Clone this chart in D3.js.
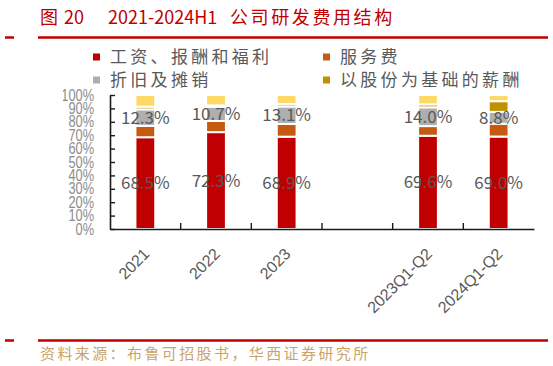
<!DOCTYPE html>
<html>
<head>
<meta charset="utf-8">
<script src="https://cdn.jsdelivr.net/npm/d3@7"></script>
<style>
  html, body { margin: 0; padding: 0; background: #fff; }
  svg { display: block; font-family: "Noto Sans CJK SC", "Noto Sans", sans-serif; }
</style>
</head>
<body>
<svg id="chart" width="553" height="366"></svg>
<script>
// categories (empty slot keeps the gap between annual and half-year bars)
const categories = ["2021", "2022", "2023", "", "2023Q1-Q2", "2024Q1-Q2"];

// series values in %, bottom to top
const wages = [68.5, 72.3, 68.9, null, 69.6, 69.0];
const service = [8.5, 8.3, 9.5, null, 7.2, 9.6];
const depreciation = [12.3, 10.7, 13.1, null, 14.0, 8.8];
const shareBased = [2.0, 1.0, 1.8, null, 2.2, 8.0];
const other = [8.7, 7.7, 6.7, null, 7.0, 4.6];

const seriesKeys = ["wages", "service", "depreciation", "shareBased", "other"];
const seriesNames = ["工资、报酬和福利", "服务费", "折旧及摊销", "以股份为基础的薪酬", "其他"];
const colors = ["#C00000", "#C55A11", "#AFAFAF", "#BF9000", "#FFD966"];
const yTicks = [0, 10, 20, 30, 40, 50, 60, 70, 80, 90, 100];
const labelledKeys = ["wages", "depreciation"]; // only these carry value labels

const title = "2021-2024H1";
const source = "资料来源：布鲁可招股书，华西证券研究所";

const svg = d3.select("#chart");
const red = "#C00000";

// header / footer rules
svg.append("line").attr("x1", 5).attr("x2", 14).attr("y1", 37.5).attr("y2", 37.5)
  .attr("stroke", red).attr("stroke-width", 2.5);
svg.append("line").attr("x1", 38).attr("x2", 548).attr("y1", 37.5).attr("y2", 37.5)
  .attr("stroke", red).attr("stroke-width", 2.5);
svg.append("line").attr("x1", 5).attr("x2", 14).attr("y1", 340.5).attr("y2", 340.5)
  .attr("stroke", red).attr("stroke-width", 2.5);
svg.append("line").attr("x1", 38).attr("x2", 548).attr("y1", 340.5).attr("y2", 340.5)
  .attr("stroke", red).attr("stroke-width", 2.5);

// title
const t = svg.append("text").attr("y", 24).attr("fill", red).attr("font-size", 18);
t.append("tspan").attr("x", 40).text("图");
t.append("tspan").attr("x", 64).text("20");
t.append("tspan").attr("x", 108).text(title);
t.append("tspan").attr("x", 230).attr("letter-spacing", 2.6).text("公司研发费用结构");

// source
svg.append("text").attr("x", 40).attr("y", 359).attr("fill", "#C9A46A")
  .attr("font-size", 15).attr("letter-spacing", 2.4).text(source);

// legend (4 items in 2 columns)
const legendItems = seriesNames.slice(0, 4).map((name, i) => ({ name, color: colors[i] }));
const legendPos = [[93, 57], [323, 57], [93, 80], [323, 80]];
const lg = svg.append("g").selectAll("g").data(legendItems).join("g")
  .attr("transform", (d, i) => `translate(${legendPos[i][0]},${legendPos[i][1]})`);
lg.append("rect").attr("x", 0).attr("y", -3.5).attr("width", 7).attr("height", 7)
  .attr("fill", d => d.color);
lg.append("text").attr("x", 17).attr("dy", "0.36em").attr("font-size", 17)
  .attr("letter-spacing", 3.3).attr("fill", "#595959").text(d => d.name);

// scales
const x = d3.scaleBand().domain(categories).range([110, 534])
  .paddingInner(0.72).paddingOuter(0.36);
const y = d3.scaleLinear().domain([0, 100]).range([229, 95]);

// stacked data
const rows = categories.map((c, i) => ({
  cat: c, wages: wages[i], service: service[i], depreciation: depreciation[i],
  shareBased: shareBased[i], other: other[i]
})).filter(d => d.wages !== null);
const stacked = d3.stack().keys(seriesKeys)(rows);

const bars = svg.append("g");
stacked.forEach((layer, li) => {
  bars.append("g").attr("fill", colors[li])
    .selectAll("rect").data(layer).join("rect")
    .attr("x", d => x(d.data.cat))
    .attr("width", x.bandwidth())
    .attr("y", d => y(d[1]))
    .attr("height", d => y(d[0]) - y(d[1]))
    .attr("stroke", "#fff").attr("stroke-width", 2);
});

// value labels
stacked.filter(l => labelledKeys.includes(l.key)).forEach(layer => {
  svg.append("g").selectAll("text").data(layer).join("text")
    .attr("x", d => x(d.data.cat) + x.bandwidth() / 2)
    .attr("y", d => y((d[0] + d[1]) / 2))
    .attr("dy", "0.36em")
    .attr("text-anchor", "middle")
    .attr("font-size", 17)
    .attr("fill", "#595959")
    .text(d => (d[1] - d[0]).toFixed(1) + "%");
});

// y axis (labels clipped on the left like the original)
svg.append("clipPath").attr("id", "yclip")
  .append("rect").attr("x", 63 - 110).attr("y", 80).attr("width", 60).attr("height", 170);
const yAxis = svg.append("g").attr("transform", "translate(110,0)")
  .attr("clip-path", "url(#yclip)")
  .call(d3.axisLeft(y).tickValues(yTicks).tickFormat(d => d + "%")
    .tickSizeInner(-5).tickSizeOuter(0).tickPadding(16));
yAxis.select(".domain").attr("stroke", "#1a1a1a").attr("stroke-width", 1.6);
yAxis.selectAll(".tick line").attr("stroke", "#1a1a1a").attr("stroke-width", 1.4);
yAxis.selectAll(".tick text")
  .attr("font-family", "'Liberation Sans', Arial, sans-serif")
  .attr("font-size", 16).attr("fill", "#8c8c8c")
  .attr("x", -16 / 0.8).attr("transform", "scale(0.8,1)");

// x axis: baseline plus ticks on the category boundaries
const xAxis = svg.append("g").attr("transform", "translate(0,229)")
  .call(d3.axisBottom(x).tickSize(0).tickFormat(""));
xAxis.select(".domain").attr("stroke", "#1a1a1a").attr("stroke-width", 1.6);
const bounds = categories.slice(1).map(c => x(c) - x.step() * x.paddingInner() / 2);
svg.append("g").selectAll("line").data(bounds).join("line")
  .attr("x1", d => d).attr("x2", d => d)
  .attr("y1", 229).attr("y2", 223)
  .attr("stroke", "#1a1a1a").attr("stroke-width", 1.4);

// rotated category labels
svg.append("g").selectAll("text").data(categories.filter(c => c !== "")).join("text")
  .attr("transform", c => `translate(${x(c) + x.bandwidth() / 2 + 5},255) rotate(-45)`)
  .attr("text-anchor", "end")
  .attr("font-family", "'Liberation Sans', Arial, sans-serif")
  .attr("font-size", 16)
  .attr("fill", "#595959")
  .text(c => c);
</script>
</body>
</html>
